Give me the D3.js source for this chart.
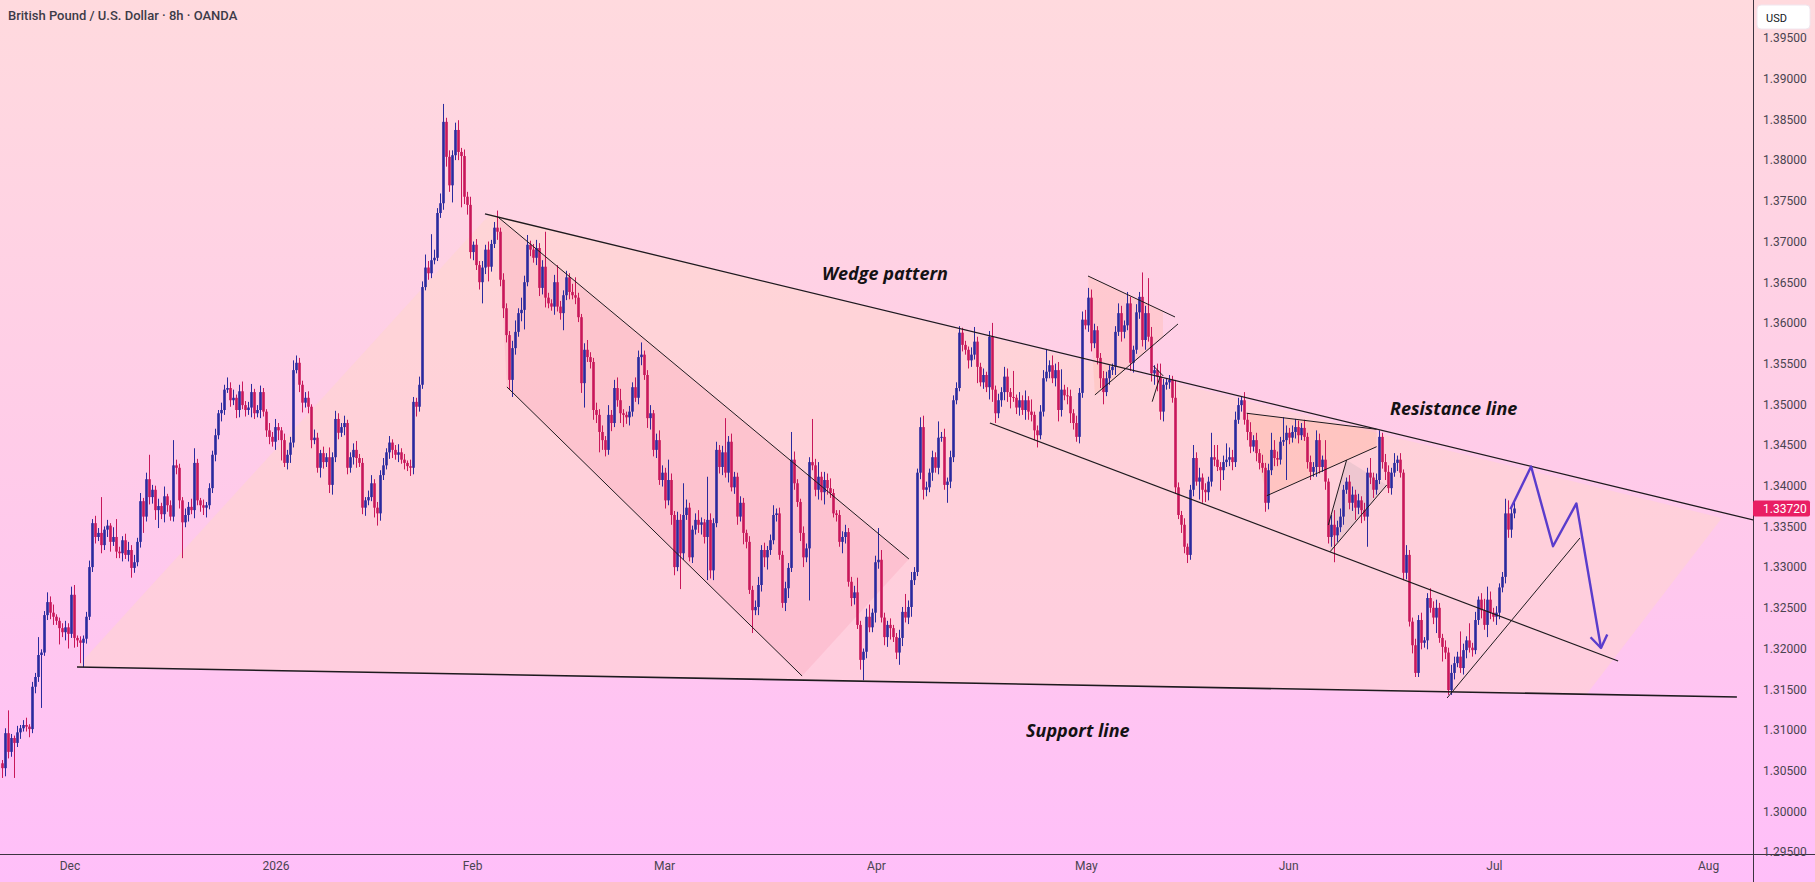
<!DOCTYPE html>
<html>
<head>
<meta charset="utf-8">
<script src="https://cdn.jsdelivr.net/npm/d3@7"></script>
<style>
  html, body { margin: 0; padding: 0; overflow: hidden; }
  svg { display: block; }
</style>
</head>
<body>
<div id="wrapper"></div>
<script>
// GBP/USD 8h candles (close of each bar, open = previous close)
const firstOpen = 1.3059;
const closes = [
  1.3053,1.3096,1.3073,1.3090,1.3084,1.3097,1.3102,1.3106,1.3104,1.3101,
  1.3153,1.3165,1.3192,1.3195,1.3241,1.3257,1.3244,1.3239,1.3234,1.3225,
  1.3220,1.3226,1.3218,1.3266,1.3213,1.3210,1.3207,1.3212,1.3239,1.3300,
  1.3354,1.3337,1.3342,1.3327,1.3346,1.3351,1.3331,1.3337,1.3319,1.3317,
  1.3333,1.3315,1.3321,1.3299,1.3306,1.3331,1.3381,1.3362,1.3408,1.3386,
  1.3395,1.3370,1.3375,1.3365,1.3387,1.3376,1.3362,1.3425,1.3422,1.3382,
  1.3355,1.3364,1.3374,1.3370,1.3428,1.3382,1.3376,1.3373,1.3376,1.3397,
  1.3438,1.3462,1.3489,1.3493,1.3518,1.3520,1.3505,1.3508,1.3493,1.3516,
  1.3499,1.3493,1.3496,1.3515,1.3489,1.3493,1.3515,1.3491,1.3468,1.3460,
  1.3454,1.3472,1.3468,1.3456,1.3428,1.3438,1.3453,1.3542,1.3551,1.3524,
  1.3502,1.3508,1.3497,1.3456,1.3459,1.3422,1.3440,1.3429,1.3435,1.3401,
  1.3435,1.3482,1.3465,1.3472,1.3477,1.3422,1.3435,1.3444,1.3434,1.3428,
  1.3373,1.3382,1.3386,1.3403,1.3373,1.3366,1.3413,1.3425,1.3441,1.3453,
  1.3444,1.3438,1.3441,1.3432,1.3428,1.3424,1.3422,1.3503,1.3497,1.3524,
  1.3644,1.3668,1.3661,1.3677,1.3680,1.3735,1.3747,1.3847,1.3804,1.3769,
  1.3806,1.3837,1.3810,1.3805,1.3755,1.3745,1.3687,1.3696,1.3671,1.3650,
  1.3668,1.3690,1.3669,1.3697,1.3717,1.3712,1.3653,1.3618,1.3585,1.3530,
  1.3569,1.3589,1.3612,1.3616,1.3650,1.3696,1.3690,1.3680,1.3692,1.3643,
  1.3669,1.3631,1.3624,1.3620,1.3650,1.3620,1.3612,1.3634,1.3656,1.3638,
  1.3634,1.3631,1.3607,1.3526,1.3567,1.3558,1.3552,1.3493,1.3487,1.3466,
  1.3456,1.3444,1.3487,1.3477,1.3520,1.3505,1.3489,1.3487,1.3484,1.3491,
  1.3521,1.3508,1.3558,1.3561,1.3536,1.3483,1.3489,1.3444,1.3456,1.3407,
  1.3416,1.3382,1.3407,1.3364,1.3300,1.3358,1.3317,1.3364,1.3373,1.3312,
  1.3346,1.3358,1.3352,1.3355,1.3337,1.3358,1.3296,1.3354,1.3444,1.3423,
  1.3441,1.3416,1.3454,1.3398,1.3411,1.3362,1.3379,1.3342,1.3331,1.3272,
  1.3247,1.3251,1.3278,1.3321,1.3312,1.3321,1.3333,1.3364,1.3366,1.3315,
  1.3256,1.3274,1.3299,1.3432,1.3403,1.3380,1.3342,1.3312,1.3323,1.3429,
  1.3425,1.3395,1.3411,1.3392,1.3407,1.3397,1.3391,1.3366,1.3364,1.3331,
  1.3337,1.3343,1.3282,1.3262,1.3269,1.3229,1.3186,1.3196,1.3239,1.3226,
  1.3244,1.3306,1.3309,1.3238,1.3214,1.3229,1.3225,1.3214,1.3195,1.3213,
  1.3245,1.3238,1.3251,1.3284,1.3294,1.3416,1.3472,1.3395,1.3398,1.3416,
  1.3435,1.3422,1.3459,1.3460,1.3401,1.3405,1.3435,1.3505,1.3520,1.3588,
  1.3573,1.3567,1.3554,1.3561,1.3577,1.3546,1.3527,1.3536,1.3521,1.3583,
  1.3518,1.3489,1.3505,1.3515,1.3534,1.3515,1.3509,1.3508,1.3496,1.3505,
  1.3493,1.3505,1.3491,1.3487,1.3468,1.3462,1.3491,1.3532,1.3540,1.3548,
  1.3532,1.3542,1.3493,1.3518,1.3511,1.3510,1.3489,1.3477,1.3460,1.3514,
  1.3604,1.3597,1.3631,1.3575,1.3591,1.3557,1.3532,1.3515,1.3532,1.3542,
  1.3546,1.3589,1.3612,1.3589,1.3597,1.3624,1.3551,1.3567,1.3613,1.3632,
  1.3579,1.3612,1.3583,1.3538,1.3542,1.3534,1.3491,1.3524,1.3527,1.3530,
  1.3508,1.3398,1.3364,1.3352,1.3325,1.3315,1.3395,1.3434,1.3405,1.3410,
  1.3395,1.3392,1.3405,1.3435,1.3432,1.3423,1.3419,1.3429,1.3432,1.3435,
  1.3429,1.3481,1.3499,1.3505,1.3481,1.3466,1.3448,1.3456,1.3440,1.3428,
  1.3422,1.3379,1.3419,1.3444,1.3434,1.3432,1.3454,1.3456,1.3465,1.3459,
  1.3466,1.3472,1.3462,1.3471,1.3460,1.3429,1.3417,1.3423,1.3456,1.3423,
  1.3432,1.3405,1.3337,1.3352,1.3339,1.3349,1.3362,1.3395,1.3405,1.3379,
  1.3389,1.3373,1.3382,1.3370,1.3362,1.3416,1.3410,1.3395,1.3407,1.3460,
  1.3429,1.3417,1.3397,1.3416,1.3428,1.3432,1.3416,1.3293,1.3315,1.3233,
  1.3204,1.3170,1.3235,1.3207,1.3210,1.3262,1.3250,1.3238,1.3250,1.3213,
  1.3202,1.3195,1.3149,1.3170,1.3182,1.3190,1.3176,1.3198,1.3210,1.3201,
  1.3198,1.3235,1.3260,1.3247,1.3229,1.3260,1.3244,1.3239,1.3244,1.3275,
  1.3288,1.3366,1.3346,1.3366,1.3372
];
// upper / lower shadow of each bar, in pips
const wickUp = [
  4,6,28,5,3,8,4,6,9,3, 6,5,22,4,5,12,7,10,3,4, 6,8,5,10,12,3,5,4,6,8,
  5,9,6,44,4,7,3,12,22,6, 5,8,10,6,9,5,10,4,8,30, 6,5,9,4,12,3,6,31,7,5,
  4,8,6,10,18,5,3,7,4,6, 5,8,4,9,6,13,7,10,4,8, 12,5,7,10,4,6,8,5,3,9,
  6,10,5,4,8,6,7,12,9,6, 5,7,8,3,10,6,4,8,5,12, 6,10,7,5,9,4,6,8,11,5,
  6,4,8,10,5,7,6,9,5,8, 4,6,10,5,7,3,8,6,5,10, 7,16,8,32,10,6,12,22,5,8,
  6,9,12,5,8,6,10,4,7,5, 8,6,10,5,7,21,5,8,6,5, 9,14,6,15,8,12,5,7,10,6,
  8,43,6,5,9,21,7,6,8,5, 10,22,6,4,8,12,6,5,9,7, 8,5,12,6,10,13,14,5,4,7,
  6,12,8,15,5,6,10,4,8,12, 9,6,25,8,5,10,7,39,10,6, 5,8,12,6,4,53,8,6,10,6,
  8,42,7,10,6,5,8,6,4,7, 5,8,10,6,9,5,7,12,6,7, 5,8,6,34,10,5,4,8,6,6,
  53,8,18,6,10,8,12,5,4,6, 7,9,5,6,8,18,5,4,10,15, 5,8,39,12,6,5,8,4,5,10,
  6,22,8,10,6,5,12,14,7,5, 8,6,20,6,10,5,8,6,7,8, 6,5,4,9,18,6,5,8,4,7,
  17,5,8,6,12,10,5,32,4,10, 6,12,5,15,4,6,8,10,28,6, 12,8,10,25,6,10,8,5,9,6,
  10,12,12,10,8,5,6,9,8,6, 4,7,12,9,6,14,8,5,10,6, 30,9,43,12,6,8,16,7,5,6,
  5,22,6,5,8,4,6,16,7,12, 5,8,6,30,15,18,6,8,20,12, 9,10,9,4,10,8,12,6,9,5,
  10,6,8,21,12,8,6,28,9,6, 8,10,8,6,10,5,8,6,12,8, 5,24,4,12,18,8,10,6,5,8,
  10,6,8,5,9,6,18,6,8,8, 5,10,8,6,12,5,8,4,12,6, 5,8,6,9,4,6,12,8,10,6,
  5,8,6,10,8,6,31,8,5,21, 6,10,4,8,14,16,10,6,8,5, 6,18,16,10,8
];
const wickDn = [
  12,10,8,6,43,5,8,4,6,10, 5,8,6,65,4,6,8,10,5,20, 6,10,18,5,12,8,25,30,6,4,
  6,8,5,10,6,9,12,5,8,6, 10,5,8,12,6,5,7,20,6,9, 8,12,22,6,10,8,5,6,8,10,
  44,6,8,5,10,6,8,9,12,5, 6,8,5,10,6,4,8,6,10,9, 5,8,6,12,7,5,10,6,8,9,
  6,10,12,25,5,8,10,6,4,9, 12,6,8,10,5,6,12,8,6,10, 12,6,8,5,10,8,6,9,12,5,
  8,10,6,5,12,15,9,6,5,8, 10,6,9,5,8,6,10,8,12,6, 5,4,8,6,5,4,6,8,12,8,
  21,6,10,63,9,12,8,10,6,9, 26,8,18,6,5,10,8,12,9,12, 21,8,6,10,24,5,8,6,9,10,
  8,12,6,5,10,6,8,21,6,9, 5,8,6,12,30,6,8,12,10,25, 12,8,6,10,5,8,12,15,8,10,
  6,5,8,10,6,12,14,8,10,6, 8,10,6,12,10,5,44,8,6,5, 7,6,10,12,8,53,10,12,5,8,
  10,6,12,5,8,10,6,14,8,5, 28,6,10,8,12,15,6,5,8,6, 6,10,12,5,8,6,10,12,6,64,
  6,8,12,10,15,8,6,5,8,6, 14,8,6,10,8,5,12,25,8,6, 6,12,8,6,10,12,14,6,8,15,
  10,6,8,12,6,5,8,12,8,6, 10,6,8,5,6,22,8,6,5,4, 8,6,10,8,6,20,5,8,6,15,
  15,12,6,8,10,12,14,5,8,10, 6,12,10,8,12,15,5,6,4,8, 6,10,14,8,6,10,12,8,6,8,
  6,5,8,10,6,8,12,15,5,8, 6,10,5,12,8,6,10,12,5,8, 8,12,6,10,14,18,10,12,6,8,
  6,8,5,10,8,10,6,8,5,22, 16,12,10,6,8,5,25,12,6,8, 10,6,5,8,6,10,8,6,10,8,
  6,11,8,6,10,8,6,5,49,8, 6,8,10,6,5,8,10,6,12,8, 6,10,8,12,33,8,6,10,5,8,
  10,15,8,16,5,37,8,10,6,5, 8,10,6,8,5,10,6,9,8,6, 10,5,5,8,6,11,6,8,19,6,
  18,8,6,6,8,5,6,8,10,6, 8,5,6,10,6,15,8,6,10,8, 6,8,10,10,6
];
const lastPrice = 1.3372;

const priceTicks = [1.295,1.300,1.305,1.310,1.315,1.320,1.325,1.330,1.335,1.340,1.345,
                    1.350,1.355,1.360,1.365,1.370,1.375,1.380,1.385,1.390,1.395];
// month boundaries, as bar positions on the time axis
const monthTicks = [22.4, 91.1, 156.6, 220.6, 291.2, 361.2, 428.6, 497.2, 568.6];
const monthLabels = ["Dec", "2026", "Feb", "Mar", "Apr", "May", "Jun", "Jul", "Aug"];

// drawings, as [bar position, price]
const wedgeShade   = [[24.9,1.31773],[162.6,1.37338],[573.2,1.33603],[527.9,1.31429]];
const resistance   = [[160.9,1.37338],[583.6,1.33579]];
const support      = [[24.9,1.31773],[578.2,1.31404]];
const lowerWedge   = [[329.2,1.34770],[538.6,1.31847]];
const channelShade = [[165.2,1.37301],[302.2,1.33100],[266.6,1.31662],[168.2,1.35213]];
const channelTop   = [[165.2,1.37301],[302.2,1.33100]];
const channelBot   = [[168.2,1.35213],[266.6,1.31662]];
const mayShade     = [[361.9,1.36576],[386.9,1.36146],[386.9,1.35827],[364.2,1.35115]];
const mayTop       = [[361.9,1.36576],[390.9,1.36073]];
const mayBot       = [[364.2,1.35115],[391.9,1.35987]];
const mayFlagA     = [[383.7,1.35471],[387.0,1.35348]];
const mayFlagB     = [[383.3,1.35032],[385.9,1.35339]];
const junTriShade  = [[414.8,1.34890],[458.1,1.34693],[458.1,1.34479],[421.5,1.33877]];
const junTriTop    = [[414.8,1.34890],[458.1,1.34693]];
const junTriBot    = [[421.5,1.33877],[458.1,1.34479]];
const junWedgeShade= [[442.0,1.33517],[448.1,1.34316],[461.5,1.34009],[442.6,1.33189]];
const junWedgeA    = [[442.0,1.33517],[448.1,1.34316]];
const junWedgeB    = [[442.6,1.33189],[461.5,1.34009]];
const julyLine     = [[481.6,1.31392],[525.9,1.33358]];
const arrowPath    = [[502.7,1.33710],[509.6,1.34236],[516.9,1.33256],[524.7,1.33782],[532.9,1.32006]];

const width = 1815, height = 882;
const plotRight = 1753, plotBottom = 854;

const candles = closes.map((c, i) => {
  const o = i === 0 ? firstOpen : closes[i - 1];
  return {
    i: i,
    open: o,
    close: c,
    high: Math.max(o, c) + wickUp[i] / 10000,
    low: Math.min(o, c) - wickDn[i] / 10000
  };
});

const x = d3.scaleLinear().domain([0, 584]).range([2.3, 2.3 + 3 * 584]);
const y = d3.scaleLinear().domain([1.295, 1.395]).range([852, 38]);

const svg = d3.select("#wrapper").append("svg")
  .attr("width", width)
  .attr("height", height);

const defs = svg.append("defs");
const bg = defs.append("linearGradient").attr("id", "bg")
  .attr("x1", 0).attr("y1", 0).attr("x2", 0).attr("y2", 1);
bg.append("stop").attr("offset", "0%").attr("stop-color", "#ffdade");
bg.append("stop").attr("offset", "50%").attr("stop-color", "#ffcce8");
bg.append("stop").attr("offset", "100%").attr("stop-color", "#ffbff9");
defs.append("clipPath").attr("id", "plotClip")
  .append("rect").attr("width", plotRight).attr("height", plotBottom);

svg.append("rect").attr("width", width).attr("height", height).attr("fill", "url(#bg)");

const plot = svg.append("g").attr("clip-path", "url(#plotClip)");
const line = d3.line().x(d => x(d[0])).y(d => y(d[1]));

// shaded areas
plot.append("path").attr("d", line(wedgeShade) + "Z").attr("fill", "rgba(255,214,200,0.45)");
plot.append("path").attr("d", line(channelShade) + "Z").attr("fill", "rgba(245,140,165,0.2)");
plot.append("path").attr("d", line(mayShade) + "Z").attr("fill", "rgba(255,185,170,0.35)");
plot.append("path").attr("d", line(junTriShade) + "Z").attr("fill", "rgba(255,175,150,0.35)");
plot.append("path").attr("d", line(junWedgeShade) + "Z").attr("fill", "rgba(205,180,190,0.35)");

// candles
const upColor = "#2a2a9e", downColor = "#c8175a";
const bars = plot.append("g").selectAll("g")
  .data(candles)
  .join("g")
  .attr("fill", d => d.close >= d.open ? upColor : downColor);

bars.append("rect")
  .attr("x", d => Math.round(x(d.i)))
  .attr("width", 1)
  .attr("y", d => y(d.high))
  .attr("height", d => y(d.low) - y(d.high));

bars.append("rect")
  .attr("x", d => Math.round(x(d.i)) - 0.8)
  .attr("width", 2.6)
  .attr("y", d => y(Math.max(d.open, d.close)))
  .attr("height", d => Math.max(1, y(Math.min(d.open, d.close)) - y(Math.max(d.open, d.close))));

// trend lines
const lines = [
  [resistance, 1.3], [support, 1.6], [lowerWedge, 1.2], [channelTop, 1], [channelBot, 1],
  [mayTop, 1], [mayBot, 1], [mayFlagA, 1], [mayFlagB, 1],
  [junTriTop, 1], [junTriBot, 1], [junWedgeA, 1], [junWedgeB, 1], [julyLine, 1]
];
plot.append("g").selectAll("path")
  .data(lines)
  .join("path")
  .attr("d", d => line(d[0]))
  .attr("fill", "none")
  .attr("stroke", "#1e1a1e")
  .attr("stroke-width", d => d[1]);

// projected path
const arrowColor = "#5a3ccc";
plot.append("path")
  .attr("d", line(arrowPath))
  .attr("fill", "none")
  .attr("stroke", arrowColor)
  .attr("stroke-width", 2.4)
  .attr("stroke-linejoin", "round");

const tip = arrowPath[arrowPath.length - 1], prev = arrowPath[arrowPath.length - 2];
const ang = Math.atan2(y(tip[1]) - y(prev[1]), x(tip[0]) - x(prev[0]));
const headLen = 15, spread = 0.6;
const tx = x(tip[0]), ty = y(tip[1]);
plot.append("path")
  .attr("d", `M${tx - headLen * Math.cos(ang - spread)},${ty - headLen * Math.sin(ang - spread)}L${tx},${ty}L${tx - headLen * Math.cos(ang + spread)},${ty - headLen * Math.sin(ang + spread)}`)
  .attr("fill", "none")
  .attr("stroke", arrowColor)
  .attr("stroke-width", 2.4)
  .attr("stroke-linejoin", "round");

// text notes
const noteFont = "'Open Sans', sans-serif";
[["Wedge pattern", 822, 280], ["Resistance line", 1390, 415], ["Support line", 1026, 737]]
  .forEach(n => {
    svg.append("text")
      .attr("x", n[1]).attr("y", n[2])
      .attr("font-family", noteFont)
      .attr("font-size", 18)
      .attr("font-weight", 700)
      .attr("font-style", "italic")
      .attr("fill", "#141214")
      .text(n[0]);
  });

// axes
const axisFont = "Roboto, 'Open Sans', sans-serif";
svg.append("line").attr("x1", plotRight + 0.5).attr("x2", plotRight + 0.5)
  .attr("y1", 0).attr("y2", height).attr("stroke", "#3b3440").attr("stroke-width", 1);
svg.append("line").attr("x1", 0).attr("x2", width)
  .attr("y1", plotBottom + 0.5).attr("y2", plotBottom + 0.5).attr("stroke", "#3b3440").attr("stroke-width", 1);

const yAxis = svg.append("g")
  .attr("transform", `translate(${plotRight},0)`)
  .call(d3.axisRight(y).tickValues(priceTicks).tickFormat(d3.format(".5f")).tickSize(0).tickPadding(10));
yAxis.select(".domain").remove();
yAxis.selectAll("text")
  .attr("font-family", axisFont).attr("font-size", 12).attr("fill", "#4a4450");

const xAxis = svg.append("g")
  .attr("transform", `translate(0,${plotBottom})`)
  .call(d3.axisBottom(x).tickValues(monthTicks).tickFormat((d, i) => monthLabels[i]).tickSize(0).tickPadding(7));
xAxis.select(".domain").remove();
xAxis.selectAll("text")
  .attr("font-family", axisFont).attr("font-size", 12).attr("fill", "#4a4450");

// currency box and last price tag
svg.append("rect").attr("x", 1757).attr("y", 5).attr("width", 53).attr("height", 24)
  .attr("rx", 4).attr("fill", "#ffffff").attr("stroke", "#f0e6ee");
svg.append("text").attr("x", 1766).attr("y", 21.5)
  .attr("font-family", axisFont).attr("font-size", 11).attr("fill", "#131722").text("USD");

const ly = y(lastPrice);
svg.append("rect").attr("x", plotRight).attr("y", ly - 8).attr("width", 57).attr("height", 16)
  .attr("rx", 2).attr("fill", "#e91e63");
svg.append("text").attr("x", plotRight + 10).attr("y", ly).attr("dy", "0.35em")
  .attr("font-family", axisFont).attr("font-size", 12).attr("fill", "#ffffff")
  .text(d3.format(".5f")(lastPrice));

// title
svg.append("text").attr("x", 8).attr("y", 20)
  .attr("font-family", axisFont).attr("font-size", 13).attr("font-weight", 500)
  .attr("fill", "#3d3b48")
  .text("British Pound / U.S. Dollar · 8h · OANDA");

if (closes.length !== wickUp.length || closes.length !== wickDn.length) {
  console.warn("length mismatch", closes.length, wickUp.length, wickDn.length);
}
</script>
</body>
</html>
